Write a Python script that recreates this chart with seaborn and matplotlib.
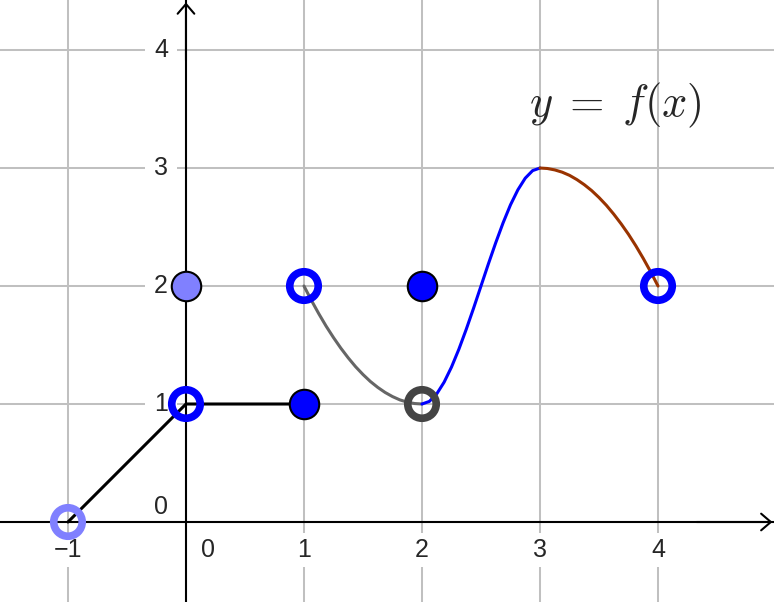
import matplotlib
matplotlib.use("Agg")
import matplotlib.pyplot as plt
import pandas as pd
import seaborn as sns

# axis ticks / labels
x_ticks = [-1, 1, 2, 3, 4]
y_ticks = [1, 2, 3, 4]
x_labels = ["\u22121", "1", "2", "3", "4"]
y_labels = ["1", "2", "3", "4"]

# piecewise parts of f
black_x = [-1, 0, 1]
black_y = [0, 1, 1]

gray_x = [1.0, 1.0625, 1.125, 1.1875, 1.25, 1.3125, 1.375, 1.4375, 1.5,
          1.5625, 1.625, 1.6875, 1.75, 1.8125, 1.875, 1.9375, 2.0]
gray_y = [2.0, 1.879, 1.766, 1.660, 1.563, 1.473, 1.391, 1.316, 1.25,
          1.191, 1.141, 1.098, 1.063, 1.035, 1.016, 1.004, 1.0]

blue_x = [2.0, 2.0625, 2.125, 2.1875, 2.25, 2.3125, 2.375, 2.4375, 2.5,
          2.5625, 2.625, 2.6875, 2.75, 2.8125, 2.875, 2.9375, 3.0]
blue_y = [1.0, 1.022, 1.086, 1.185, 1.313, 1.464, 1.633, 1.813, 2.0,
          2.187, 2.367, 2.536, 2.688, 2.815, 2.914, 2.978, 3.0]

brown_x = [3.0, 3.0625, 3.125, 3.1875, 3.25, 3.3125, 3.375, 3.4375, 3.5,
           3.5625, 3.625, 3.6875, 3.75, 3.8125, 3.875, 3.9375, 4.0]
brown_y = [3.0, 2.996, 2.984, 2.965, 2.938, 2.902, 2.859, 2.809, 2.75,
           2.684, 2.609, 2.527, 2.438, 2.340, 2.234, 2.121, 2.0]

# points
filled_x = [0, 1, 2]
filled_y = [2, 1, 2]
filled_c = ["#8080ff", "#0000ff", "#0000ff"]

open_x = [-1, 0, 1, 2, 4]
open_y = [0, 1, 2, 1, 2]
open_c = ["#8080ff", "#0000ff", "#0000ff", "#444444", "#0000ff"]

sns.set_style("white")
plt.rcParams["font.family"] = ["Liberation Sans", "DejaVu Sans"]
plt.rcParams["mathtext.fontset"] = "cm"

fig = plt.figure(figsize=(7.74, 6.02), dpi=100)
ax = fig.add_axes([0, 0, 1, 1])
ax.set_xlim(-1.576, 4.983)
ax.set_ylim(-0.678, 4.424)

# axes through the origin
for side in ["top", "right"]:
    ax.spines[side].set_visible(False)
for side in ["left", "bottom"]:
    ax.spines[side].set_position(("data", 0))
    ax.spines[side].set_color("black")
    ax.spines[side].set_linewidth(1.5)

ax.set_xticks(x_ticks)
ax.set_yticks(y_ticks)
ax.tick_params(direction="out", length=4.5, width=1.5, color="black",
               labelbottom=False, labelleft=False)
ax.set_axisbelow(True)
ax.grid(True, color="#c0c0c0", lw=1.45)

arrow = dict(arrowstyle="->,head_length=0.35,head_width=0.3", color="black",
             lw=1.5, shrinkA=0, shrinkB=0, mutation_scale=20)
ax.annotate("", xy=(0.998, 0), xytext=(0.9, 0),
            xycoords=("axes fraction", "data"), arrowprops=arrow, zorder=3)
ax.annotate("", xy=(0, 0.996), xytext=(0, 0.9),
            xycoords=("data", "axes fraction"), arrowprops=arrow, zorder=3)

# tick labels with white boxes over the grid
for xv, lab in zip(x_ticks, x_labels):
    ax.text(xv, -0.237, lab, fontsize=18, ha="center", va="center", zorder=1,
            bbox=dict(boxstyle="square,pad=0.2", fc="white", ec="none"))
for yv, lab in zip(y_ticks, y_labels):
    ax.text(-0.212, yv, lab, fontsize=18, ha="center", va="center", zorder=1,
            bbox=dict(boxstyle="square,pad=0.35", fc="white", ec="none"))
ax.text(0.186, -0.237, "0", fontsize=18, ha="center", va="center", zorder=1)
ax.text(-0.212, 0.127, "0", fontsize=18, ha="center", va="center", zorder=1)

# curves
line_kw = dict(lw=2.2, ax=ax, zorder=2, solid_capstyle="round",
               solid_joinstyle="round")
sns.lineplot(x=black_x, y=black_y, color="black", **line_kw)
sns.lineplot(x=gray_x, y=gray_y, color="#666666", **line_kw)
sns.lineplot(x=blue_x, y=blue_y, color="#0000ff", **line_kw)
sns.lineplot(x=brown_x, y=brown_y, color="#993300", **line_kw)

# points
for xv, yv, c in zip(filled_x, filled_y, filled_c):
    sns.scatterplot(x=[xv], y=[yv], color=c, edgecolor="black", s=450,
                    linewidth=1.5, ax=ax, zorder=5)
for xv, yv, c in zip(open_x, open_y, open_c):
    sns.scatterplot(x=[xv], y=[yv], facecolor="none", edgecolor=c, s=420,
                    linewidth=5.5, ax=ax, zorder=5)

ax.text(3.64, 3.53, r"$y\;=\;f(x)$", fontsize=32, ha="center", va="center")

ax.set_xlabel("")
ax.set_ylabel("")
fig.savefig("out.png", dpi=100)
